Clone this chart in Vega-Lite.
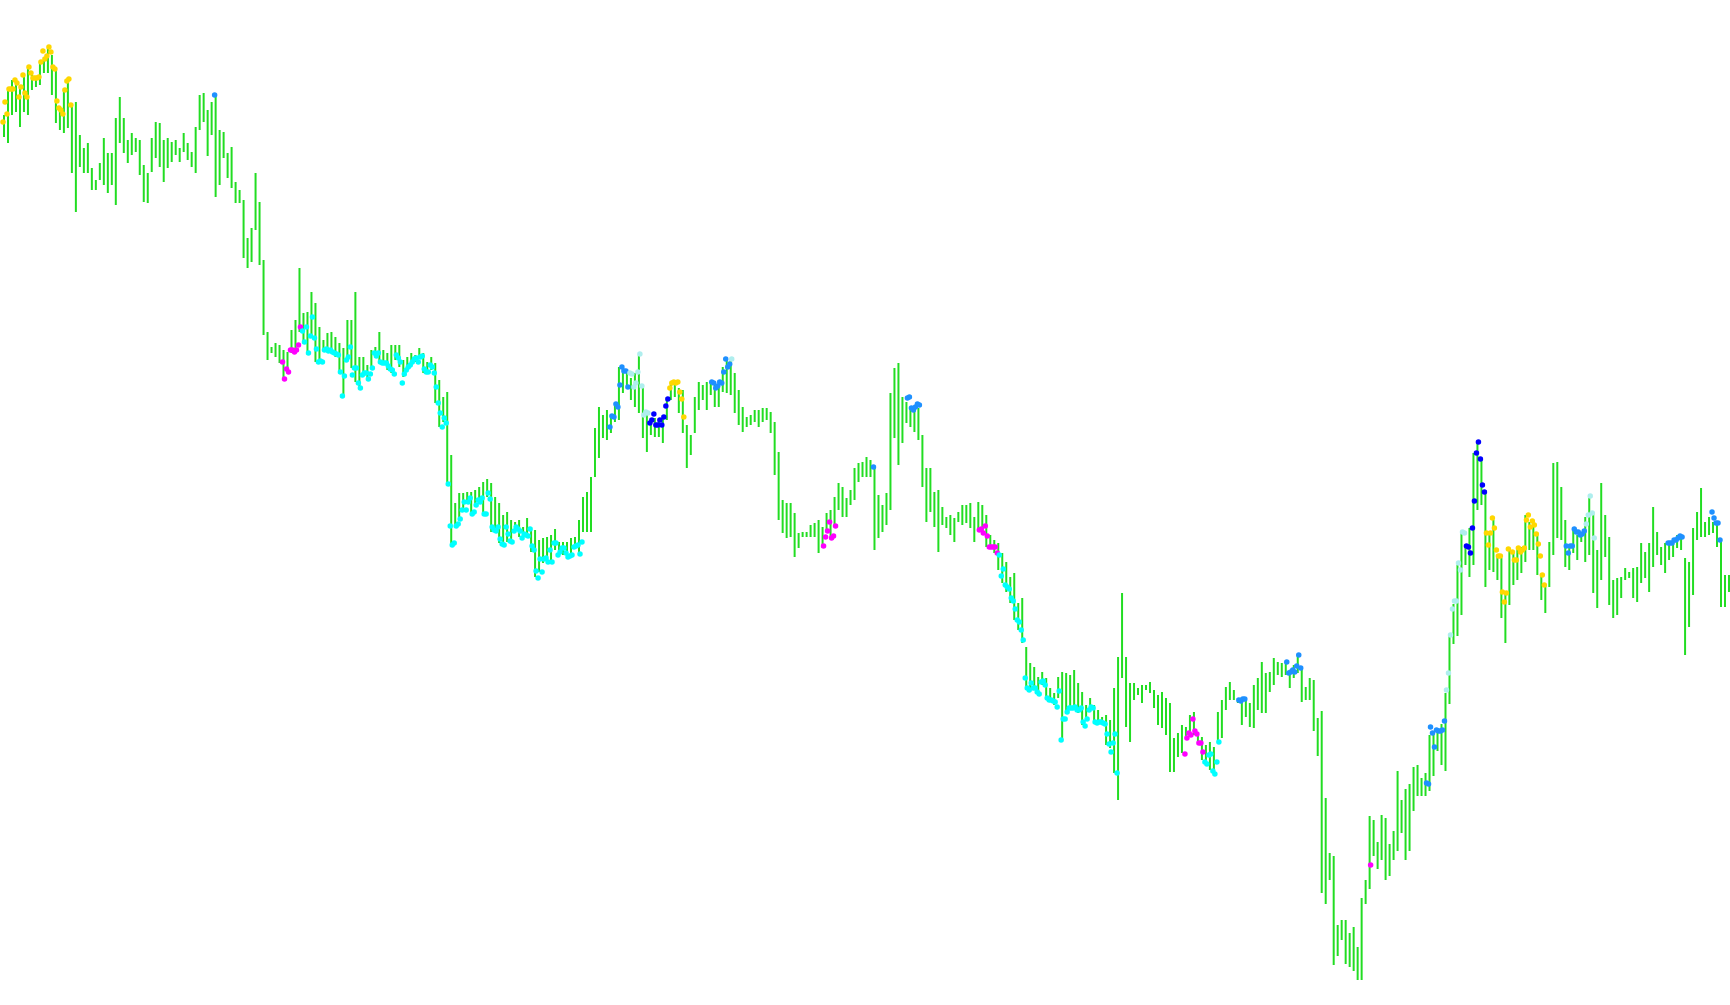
{
"$schema":"https://vega.github.io/schema/vega-lite/v6.json",
"width":1730,"height":1005,
"autosize":{"type":"fit","contains":"padding"},
"padding":0,
"background":"white",
"config":{"view":{"stroke":null}},
"datasets":{
"bars":[
{"n":0.5,"h":885,"l":863},{"n":2.5,"h":911,"l":857},{"n":4.5,"h":920,"l":885},{"n":6.5,"h":917,"l":888},{"n":8.5,"h":915,"l":873},{"n":10.5,"h":925,"l":888},{"n":12.5,"h":933,"l":885},{"n":14.5,"h":927,"l":910},{"n":16.5,"h":923,"l":913},{"n":18.5,"h":938,"l":915},
{"n":20.5,"h":943,"l":927},{"n":22.5,"h":952,"l":927},{"n":24.5,"h":945,"l":905},{"n":26.5,"h":932,"l":877},{"n":28.5,"h":892,"l":870},{"n":30.5,"h":910,"l":867},{"n":32.5,"h":920,"l":872},{"n":34.5,"h":893,"l":827},{"n":36.5,"h":898,"l":788},{"n":38.5,"h":865,"l":833},
{"n":40.5,"h":852,"l":827},{"n":42.5,"h":857,"l":827},{"n":44.5,"h":832,"l":810},{"n":46.5,"h":820,"l":810},{"n":48.5,"h":837,"l":820},{"n":50.5,"h":862,"l":815},{"n":52.5,"h":847,"l":807},{"n":54.5,"h":847,"l":815},{"n":56.5,"h":882,"l":795},{"n":58.5,"h":903,"l":857},
{"n":60.5,"h":882,"l":847},{"n":62.5,"h":860,"l":837},{"n":64.5,"h":867,"l":845},{"n":66.5,"h":862,"l":848},{"n":68.5,"h":860,"l":825},{"n":70.5,"h":835,"l":798},{"n":72.5,"h":827,"l":797},{"n":74.5,"h":862,"l":828},{"n":76.5,"h":878,"l":842},{"n":78.5,"h":877,"l":833},
{"n":80.5,"h":860,"l":818},{"n":82.5,"h":862,"l":832},{"n":84.5,"h":858,"l":838},{"n":86.5,"h":860,"l":845},{"n":88.5,"h":852,"l":838},{"n":90.5,"h":867,"l":848},{"n":92.5,"h":857,"l":840},{"n":94.5,"h":848,"l":833},{"n":96.5,"h":873,"l":827},{"n":98.5,"h":905,"l":870},
{"n":100.5,"h":907,"l":878},{"n":102.5,"h":890,"l":844},{"n":104.5,"h":898,"l":865},{"n":106.5,"h":905,"l":803},{"n":108.5,"h":870,"l":815},{"n":110.5,"h":868,"l":842},{"n":112.5,"h":847,"l":822},{"n":114.5,"h":853,"l":812},{"n":116.5,"h":818,"l":797},{"n":118.5,"h":810,"l":797},
{"n":120.5,"h":800,"l":742},{"n":122.5,"h":762,"l":732},{"n":124.5,"h":772,"l":738},{"n":126.5,"h":827,"l":770},{"n":128.5,"h":798,"l":735},{"n":130.5,"h":740,"l":665},{"n":132.5,"h":668,"l":640},{"n":134.5,"h":653,"l":647},{"n":136.5,"h":657,"l":643},{"n":138.5,"h":655,"l":637},
{"n":140.5,"h":650,"l":622},{"n":142.5,"h":648,"l":627},{"n":144.5,"h":670,"l":647},{"n":146.5,"h":680,"l":650},{"n":148.5,"h":732,"l":668},{"n":150.5,"h":687,"l":657},{"n":152.5,"h":688,"l":647},{"n":154.5,"h":708,"l":663},{"n":156.5,"h":697,"l":638},{"n":158.5,"h":673,"l":638},
{"n":160.5,"h":660,"l":650},{"n":162.5,"h":667,"l":648},{"n":164.5,"h":668,"l":647},{"n":166.5,"h":663,"l":643},{"n":168.5,"h":657,"l":627},{"n":170.5,"h":652,"l":603},{"n":172.5,"h":680,"l":642},{"n":174.5,"h":680,"l":632},{"n":176.5,"h":708,"l":618},{"n":178.5,"h":643,"l":612},
{"n":180.5,"h":643,"l":625},{"n":182.5,"h":635,"l":622},{"n":184.5,"h":650,"l":632},{"n":186.5,"h":653,"l":643},{"n":188.5,"h":668,"l":637},{"n":190.5,"h":650,"l":635},{"n":192.5,"h":647,"l":630},{"n":194.5,"h":655,"l":627},{"n":196.5,"h":655,"l":640},{"n":198.5,"h":655,"l":633},
{"n":200.5,"h":640,"l":623},{"n":202.5,"h":643,"l":630},{"n":204.5,"h":647,"l":637},{"n":206.5,"h":645,"l":638},{"n":208.5,"h":652,"l":642},{"n":210.5,"h":647,"l":627},{"n":212.5,"h":638,"l":627},{"n":214.5,"h":643,"l":630},{"n":216.5,"h":637,"l":597},{"n":218.5,"h":620,"l":573},
{"n":220.5,"h":603,"l":578},{"n":222.5,"h":608,"l":517},{"n":224.5,"h":545,"l":455},{"n":226.5,"h":497,"l":473},{"n":228.5,"h":507,"l":480},{"n":230.5,"h":507,"l":492},{"n":232.5,"h":508,"l":498},{"n":234.5,"h":508,"l":487},{"n":236.5,"h":510,"l":493},{"n":238.5,"h":513,"l":500},
{"n":240.5,"h":518,"l":485},{"n":242.5,"h":521,"l":503},{"n":244.5,"h":517,"l":468},{"n":246.5,"h":503,"l":470},{"n":248.5,"h":497,"l":457},{"n":250.5,"h":485,"l":455},{"n":252.5,"h":488,"l":458},{"n":254.5,"h":480,"l":457},{"n":256.5,"h":478,"l":470},{"n":258.5,"h":480,"l":463},
{"n":260.5,"h":473,"l":463},{"n":262.5,"h":482,"l":465},{"n":264.5,"h":473,"l":448},{"n":266.5,"h":470,"l":423},{"n":268.5,"h":460,"l":428},{"n":270.5,"h":462,"l":437},{"n":272.5,"h":463,"l":438},{"n":274.5,"h":465,"l":437},{"n":276.5,"h":471,"l":450},{"n":278.5,"h":458,"l":448},
{"n":280.5,"h":458,"l":445},{"n":282.5,"h":458,"l":443},{"n":284.5,"h":462,"l":443},{"n":286.5,"h":463,"l":453},{"n":288.5,"h":480,"l":447},{"n":290.5,"h":503,"l":468},{"n":292.5,"h":508,"l":468},{"n":294.5,"h":523,"l":468},{"n":296.5,"h":572,"l":523},{"n":298.5,"h":593,"l":542},
{"n":300.5,"h":585,"l":562},{"n":302.5,"h":590,"l":560},{"n":304.5,"h":585,"l":567},{"n":306.5,"h":597,"l":578},{"n":308.5,"h":633,"l":580},{"n":310.5,"h":630,"l":607},{"n":312.5,"h":627,"l":612},{"n":314.5,"h":622,"l":600},{"n":316.5,"h":627,"l":593},{"n":318.5,"h":645,"l":587},
{"n":320.5,"h":612,"l":562},{"n":322.5,"h":588,"l":548},{"n":324.5,"h":582,"l":565},{"n":326.5,"h":582,"l":563},{"n":328.5,"h":580,"l":563},{"n":330.5,"h":585,"l":557},{"n":332.5,"h":603,"l":580},{"n":334.5,"h":618,"l":600},{"n":336.5,"h":620,"l":603},{"n":338.5,"h":612,"l":587},
{"n":340.5,"h":610,"l":567},{"n":342.5,"h":575,"l":532},{"n":344.5,"h":565,"l":545},{"n":346.5,"h":603,"l":567},{"n":348.5,"h":618,"l":590},{"n":350.5,"h":615,"l":600},{"n":352.5,"h":618,"l":590},{"n":354.5,"h":618,"l":605},{"n":356.5,"h":617,"l":593},{"n":358.5,"h":620,"l":593},
{"n":360.5,"h":633,"l":608},{"n":362.5,"h":640,"l":607},{"n":364.5,"h":640,"l":605},{"n":366.5,"h":627,"l":587},{"n":368.5,"h":610,"l":575},{"n":370.5,"h":593,"l":568},{"n":372.5,"h":583,"l":573},{"n":374.5,"h":585,"l":575},{"n":376.5,"h":590,"l":578},{"n":378.5,"h":590,"l":573},
{"n":380.5,"h":592,"l":578},{"n":382.5,"h":592,"l":580},{"n":384.5,"h":588,"l":567},{"n":386.5,"h":578,"l":525},{"n":388.5,"h":548,"l":480},{"n":390.5,"h":500,"l":467},{"n":392.5,"h":497,"l":462},{"n":394.5,"h":497,"l":463},{"n":396.5,"h":487,"l":443},{"n":398.5,"h":467,"l":452},
{"n":400.5,"h":468,"l":463},{"n":402.5,"h":468,"l":463},{"n":404.5,"h":475,"l":463},{"n":406.5,"h":477,"l":463},{"n":408.5,"h":480,"l":447},{"n":410.5,"h":473,"l":452},{"n":412.5,"h":487,"l":468},{"n":414.5,"h":490,"l":463},{"n":416.5,"h":503,"l":473},{"n":418.5,"h":517,"l":490},
{"n":420.5,"h":513,"l":483},{"n":422.5,"h":502,"l":483},{"n":424.5,"h":510,"l":495},{"n":426.5,"h":532,"l":500},{"n":428.5,"h":537,"l":518},{"n":430.5,"h":538,"l":523},{"n":432.5,"h":543,"l":523},{"n":434.5,"h":540,"l":523},{"n":436.5,"h":533,"l":450},{"n":438.5,"h":505,"l":462},
{"n":440.5,"h":495,"l":468},{"n":442.5,"h":507,"l":475},{"n":444.5,"h":607,"l":490},{"n":446.5,"h":632,"l":562},{"n":448.5,"h":637,"l":535},{"n":450.5,"h":603,"l":557},{"n":452.5,"h":598,"l":577},{"n":454.5,"h":592,"l":573},{"n":456.5,"h":593,"l":568},{"n":458.5,"h":592,"l":560},
{"n":460.5,"h":565,"l":513},{"n":462.5,"h":532,"l":478},{"n":464.5,"h":532,"l":488},{"n":466.5,"h":508,"l":473},{"n":468.5,"h":510,"l":448},{"n":470.5,"h":493,"l":475},{"n":472.5,"h":483,"l":472},{"n":474.5,"h":485,"l":465},{"n":476.5,"h":482,"l":458},{"n":478.5,"h":488,"l":478},
{"n":480.5,"h":495,"l":475},{"n":482.5,"h":495,"l":477},{"n":484.5,"h":497,"l":472},{"n":486.5,"h":483,"l":458},{"n":488.5,"h":498,"l":470},{"n":490.5,"h":495,"l":465},{"n":492.5,"h":485,"l":453},{"n":494.5,"h":465,"l":453},{"n":496.5,"h":460,"l":447},{"n":498.5,"h":457,"l":430},
{"n":500.5,"h":447,"l":417},{"n":502.5,"h":438,"l":408},{"n":504.5,"h":423,"l":397},{"n":506.5,"h":427,"l":380},{"n":508.5,"h":397,"l":370},{"n":510.5,"h":402,"l":357},{"n":512.5,"h":353,"l":310},{"n":514.5,"h":337,"l":312},{"n":516.5,"h":333,"l":310},{"n":518.5,"h":323,"l":307},
{"n":520.5,"h":328,"l":315},{"n":522.5,"h":322,"l":300},{"n":524.5,"h":312,"l":298},{"n":526.5,"h":307,"l":295},{"n":528.5,"h":323,"l":302},{"n":530.5,"h":328,"l":260},{"n":532.5,"h":327,"l":287},{"n":534.5,"h":325,"l":292},{"n":536.5,"h":330,"l":292},{"n":538.5,"h":317,"l":287},
{"n":540.5,"h":308,"l":275},{"n":542.5,"h":295,"l":280},{"n":544.5,"h":302,"l":290},{"n":546.5,"h":295,"l":278},{"n":548.5,"h":290,"l":278},{"n":550.5,"h":283,"l":275},{"n":552.5,"h":285,"l":255},{"n":554.5,"h":280,"l":252},{"n":556.5,"h":312,"l":227},{"n":558.5,"h":343,"l":200},
{"n":560.5,"h":407,"l":322},{"n":562.5,"h":343,"l":273},{"n":564.5,"h":317,"l":258},{"n":566.5,"h":317,"l":300},{"n":568.5,"h":312,"l":305},{"n":570.5,"h":315,"l":297},{"n":572.5,"h":315,"l":310},{"n":574.5,"h":318,"l":307},{"n":576.5,"h":310,"l":292},{"n":578.5,"h":305,"l":275},
{"n":580.5,"h":308,"l":272},{"n":582.5,"h":302,"l":265},{"n":584.5,"h":297,"l":228},{"n":586.5,"h":262,"l":228},{"n":588.5,"h":267,"l":243},{"n":590.5,"h":275,"l":247},{"n":592.5,"h":273,"l":260},{"n":594.5,"h":285,"l":267},{"n":596.5,"h":288,"l":265},{"n":598.5,"h":268,"l":255},
{"n":600.5,"h":263,"l":240},{"n":602.5,"h":255,"l":237},{"n":604.5,"h":258,"l":230},{"n":606.5,"h":253,"l":227},{"n":608.5,"h":288,"l":258},{"n":610.5,"h":300,"l":262},{"n":612.5,"h":313,"l":290},{"n":614.5,"h":318,"l":300},{"n":616.5,"h":310,"l":300},{"n":618.5,"h":302,"l":297},
{"n":620.5,"h":303,"l":275},{"n":622.5,"h":300,"l":283},{"n":624.5,"h":297,"l":273},{"n":626.5,"h":315,"l":272},{"n":628.5,"h":322,"l":290},{"n":630.5,"h":338,"l":287},{"n":632.5,"h":327,"l":287},{"n":634.5,"h":328,"l":308},{"n":636.5,"h":342,"l":315},{"n":638.5,"h":338,"l":325},
{"n":640.5,"h":337,"l":323},{"n":642.5,"h":338,"l":325},{"n":644.5,"h":327,"l":312},{"n":646.5,"h":335,"l":322},{"n":648.5,"h":345,"l":327},{"n":650.5,"h":331,"l":298},{"n":652.5,"h":313,"l":300},{"n":654.5,"h":322,"l":300},{"n":656.5,"h":320,"l":269},{"n":658.5,"h":282,"l":244},
{"n":660.5,"h":289,"l":107},{"n":662.5,"h":202,"l":96},{"n":664.5,"h":147,"l":120},{"n":666.5,"h":144,"l":35},{"n":668.5,"h":75,"l":44},{"n":670.5,"h":80,"l":60},{"n":672.5,"h":80,"l":36},{"n":674.5,"h":67,"l":33},{"n":676.5,"h":73,"l":29},{"n":678.5,"h":53,"l":20},
{"n":680.5,"h":102,"l":20},{"n":682.5,"h":120,"l":96},{"n":684.5,"h":184,"l":111},{"n":686.5,"h":180,"l":144},{"n":688.5,"h":158,"l":131},{"n":690.5,"h":185,"l":140},{"n":692.5,"h":182,"l":120},{"n":694.5,"h":156,"l":124},{"n":696.5,"h":169,"l":140},{"n":698.5,"h":229,"l":149},
{"n":700.5,"h":200,"l":167},{"n":702.5,"h":211,"l":140},{"n":704.5,"h":216,"l":149},{"n":706.5,"h":233,"l":189},{"n":708.5,"h":235,"l":204},{"n":710.5,"h":222,"l":204},{"n":712.5,"h":227,"l":204},{"n":714.5,"h":265,"l":209},{"n":716.5,"h":269,"l":224},{"n":718.5,"h":271,"l":249},
{"n":720.5,"h":276,"l":235},{"n":722.5,"h":307,"l":229},{"n":724.5,"h":364,"l":296},{"n":726.5,"h":396,"l":356},{"n":728.5,"h":435,"l":364},{"n":730.5,"h":467,"l":385},{"n":732.5,"h":455,"l":435},{"n":734.5,"h":472,"l":423},{"n":736.5,"h":547,"l":435},{"n":738.5,"h":558,"l":490},
{"n":740.5,"h":542,"l":495},{"n":742.5,"h":510,"l":413},{"n":744.5,"h":467,"l":430},{"n":746.5,"h":480,"l":428},{"n":748.5,"h":445,"l":420},{"n":750.5,"h":442,"l":382},{"n":752.5,"h":407,"l":357},{"n":754.5,"h":452,"l":395},{"n":756.5,"h":447,"l":415},{"n":758.5,"h":452,"l":420},
{"n":760.5,"h":453,"l":427},{"n":762.5,"h":485,"l":438},{"n":764.5,"h":478,"l":450},{"n":766.5,"h":478,"l":450},{"n":768.5,"h":465,"l":425},{"n":770.5,"h":425,"l":400},{"n":772.5,"h":415,"l":387},{"n":774.5,"h":458,"l":413},{"n":776.5,"h":537,"l":445},{"n":778.5,"h":538,"l":462},
{"n":780.5,"h":513,"l":460},{"n":782.5,"h":480,"l":433},{"n":784.5,"h":453,"l":430},{"n":786.5,"h":472,"l":447},{"n":788.5,"h":465,"l":440},{"n":790.5,"h":468,"l":458},{"n":792.5,"h":483,"l":438},{"n":794.5,"h":502,"l":445},{"n":796.5,"h":488,"l":407},{"n":798.5,"h":450,"l":392},
{"n":800.5,"h":517,"l":420},{"n":802.5,"h":485,"l":443},{"n":804.5,"h":463,"l":395},{"n":806.5,"h":420,"l":382},{"n":808.5,"h":422,"l":385},{"n":810.5,"h":423,"l":402},{"n":812.5,"h":432,"l":420},{"n":814.5,"h":428,"l":422},{"n":816.5,"h":432,"l":402},{"n":818.5,"h":433,"l":398},
{"n":820.5,"h":457,"l":417},{"n":822.5,"h":448,"l":422},{"n":824.5,"h":457,"l":408},{"n":826.5,"h":493,"l":433},{"n":828.5,"h":468,"l":445},{"n":830.5,"h":453,"l":435},{"n":832.5,"h":457,"l":427},{"n":834.5,"h":455,"l":440},{"n":836.5,"h":462,"l":443},{"n":838.5,"h":465,"l":452},
{"n":840.5,"h":465,"l":450},{"n":842.5,"h":442,"l":345},{"n":844.5,"h":438,"l":373},{"n":846.5,"h":472,"l":405},{"n":848.5,"h":488,"l":460},{"n":850.5,"h":512,"l":463},{"n":852.5,"h":478,"l":463},{"n":854.5,"h":483,"l":465},{"n":856.5,"h":478,"l":467},{"n":858.5,"h":478,"l":453},
{"n":860.5,"h":460,"l":393},{"n":862.5,"h":425,"l":393},{"n":864.5,"h":425,"l":408}
],
"dots":[
{"n":0,"v":878,"c":"G"},{"n":1,"v":898,"c":"G"},{"n":2,"v":886,"c":"G"},{"n":3,"v":911,"c":"G"},{"n":4,"v":911,"c":"G"},{"n":5,"v":911,"c":"G"},{"n":6,"v":920,"c":"G"},{"n":7,"v":917,"c":"G"},{"n":8,"v":903,"c":"G"},{"n":9,"v":913,"c":"G"},{"n":10,"v":925,"c":"G"},{"n":11,"v":907,"c":"G"},{"n":12,"v":903,"c":"G"},{"n":13,"v":933,"c":"G"},{"n":14,"v":927,"c":"G"},{"n":15,"v":922,"c":"G"},{"n":16,"v":922,"c":"G"},{"n":17,"v":922,"c":"G"},{"n":18,"v":923,"c":"G"},{"n":19,"v":938,"c":"G"},{"n":20,"v":949,"c":"G"},{"n":21,"v":941,"c":"G"},{"n":22,"v":944,"c":"G"},{"n":23,"v":953,"c":"G"},{"n":24,"v":948,"c":"G"},{"n":25,"v":933,"c":"G"},{"n":26,"v":931,"c":"G"},{"n":27,"v":899,"c":"G"},{"n":28,"v":892,"c":"G"},{"n":29,"v":890,"c":"G"},{"n":30,"v":886,"c":"G"},{"n":31,"v":910,"c":"G"},{"n":32,"v":919,"c":"G"},{"n":33,"v":921,"c":"G"},{"n":34,"v":895,"c":"G"},
{"n":106,"v":905,"c":"D"},
{"n":140,"v":638,"c":"M"},{"n":141,"v":621,"c":"M"},{"n":142,"v":631,"c":"M"},{"n":143,"v":628,"c":"M"},{"n":144,"v":650,"c":"M"},{"n":145,"v":650,"c":"M"},{"n":146,"v":648,"c":"M"},{"n":147,"v":650,"c":"M"},{"n":148,"v":655,"c":"M"},{"n":149,"v":673,"c":"M"},
{"n":150,"v":669,"c":"C"},{"n":151,"v":658,"c":"C"},{"n":152,"v":673,"c":"C"},{"n":153,"v":647,"c":"C"},{"n":154,"v":664,"c":"C"},{"n":155,"v":683,"c":"C"},{"n":156,"v":662,"c":"C"},{"n":157,"v":651,"c":"C"},{"n":158,"v":638,"c":"C"},{"n":159,"v":639,"c":"C"},{"n":160,"v":638,"c":"C"},{"n":161,"v":650,"c":"C"},{"n":162,"v":651,"c":"C"},{"n":163,"v":649,"c":"C"},{"n":164,"v":650,"c":"C"},{"n":165,"v":648,"c":"C"},{"n":166,"v":647,"c":"C"},{"n":167,"v":646,"c":"C"},{"n":168,"v":645,"c":"C"},{"n":169,"v":628,"c":"C"},{"n":170,"v":604,"c":"C"},{"n":171,"v":624,"c":"C"},{"n":172,"v":640,"c":"C"},{"n":173,"v":643,"c":"C"},{"n":174,"v":653,"c":"C"},{"n":175,"v":625,"c":"C"},{"n":176,"v":632,"c":"C"},{"n":177,"v":632,"c":"C"},{"n":178,"v":617,"c":"C"},{"n":179,"v":612,"c":"C"},{"n":180,"v":625,"c":"C"},{"n":181,"v":627,"c":"C"},{"n":182,"v":627,"c":"C"},{"n":183,"v":621,"c":"C"},{"n":184,"v":626,"c":"C"},{"n":185,"v":632,"c":"C"},{"n":186,"v":647,"c":"C"},{"n":187,"v":644,"c":"C"},{"n":188,"v":647,"c":"C"},{"n":189,"v":638,"c":"C"},{"n":190,"v":637,"c":"C"},{"n":191,"v":637,"c":"C"},{"n":192,"v":637,"c":"C"},{"n":193,"v":634,"c":"C"},{"n":194,"v":631,"c":"C"},{"n":195,"v":630,"c":"C"},{"n":196,"v":626,"c":"C"},{"n":197,"v":645,"c":"C"},{"n":198,"v":642,"c":"C"},{"n":199,"v":638,"c":"C"},{"n":200,"v":617,"c":"C"},{"n":201,"v":626,"c":"C"},{"n":202,"v":630,"c":"C"},{"n":203,"v":633,"c":"C"},{"n":204,"v":635,"c":"C"},{"n":205,"v":638,"c":"C"},{"n":206,"v":641,"c":"C"},{"n":207,"v":642,"c":"C"},{"n":208,"v":638,"c":"C"},{"n":209,"v":643,"c":"C"},{"n":210,"v":644,"c":"C"},{"n":211,"v":631,"c":"C"},{"n":212,"v":628,"c":"C"},{"n":213,"v":628,"c":"C"},{"n":214,"v":635,"c":"C"},{"n":215,"v":633,"c":"C"},{"n":216,"v":627,"c":"C"},{"n":217,"v":613,"c":"C"},
{"n":218,"v":597,"c":"C"},{"n":219,"v":587,"c":"C"},{"n":220,"v":573,"c":"C"},{"n":221,"v":582,"c":"C"},{"n":222,"v":577,"c":"C"},{"n":223,"v":516,"c":"C"},{"n":224,"v":474,"c":"C"},{"n":225,"v":455,"c":"C"},{"n":226,"v":457,"c":"C"},{"n":227,"v":474,"c":"C"},{"n":228,"v":476,"c":"C"},{"n":229,"v":481,"c":"C"},{"n":230,"v":490,"c":"C"},{"n":231,"v":498,"c":"C"},{"n":232,"v":490,"c":"C"},{"n":233,"v":498,"c":"C"},{"n":234,"v":502,"c":"C"},{"n":235,"v":486,"c":"C"},{"n":236,"v":488,"c":"C"},{"n":237,"v":495,"c":"C"},{"n":238,"v":500,"c":"C"},{"n":239,"v":498,"c":"C"},{"n":240,"v":502,"c":"C"},{"n":241,"v":486,"c":"C"},{"n":242,"v":486,"c":"C"},{"n":243,"v":507,"c":"C"},{"n":244,"v":501,"c":"C"},{"n":245,"v":473,"c":"C"},{"n":246,"v":470,"c":"C"},{"n":247,"v":469,"c":"C"},{"n":248,"v":473,"c":"C"},{"n":249,"v":461,"c":"C"},{"n":250,"v":456,"c":"C"},{"n":251,"v":455,"c":"C"},{"n":252,"v":473,"c":"C"},{"n":253,"v":466,"c":"C"},{"n":254,"v":459,"c":"C"},{"n":255,"v":458,"c":"C"},{"n":256,"v":469,"c":"C"},{"n":257,"v":473,"c":"C"},{"n":258,"v":471,"c":"C"},{"n":259,"v":469,"c":"C"},{"n":260,"v":462,"c":"C"},{"n":261,"v":466,"c":"C"},{"n":262,"v":465,"c":"C"},{"n":263,"v":464,"c":"C"},{"n":264,"v":471,"c":"C"},{"n":265,"v":454,"c":"C"},{"n":266,"v":450,"c":"C"},{"n":267,"v":429,"c":"C"},{"n":268,"v":422,"c":"C"},{"n":269,"v":441,"c":"C"},{"n":270,"v":428,"c":"C"},{"n":271,"v":441,"c":"C"},{"n":272,"v":442,"c":"C"},{"n":273,"v":438,"c":"C"},{"n":274,"v":450,"c":"C"},{"n":275,"v":438,"c":"C"},{"n":276,"v":457,"c":"C"},{"n":277,"v":457,"c":"C"},{"n":278,"v":445,"c":"C"},{"n":279,"v":448,"c":"C"},{"n":280,"v":452,"c":"C"},{"n":281,"v":452,"c":"C"},{"n":282,"v":447,"c":"C"},{"n":283,"v":443,"c":"C"},{"n":284,"v":444,"c":"C"},{"n":285,"v":445,"c":"C"},{"n":286,"v":453,"c":"C"},{"n":287,"v":454,"c":"C"},{"n":288,"v":455,"c":"C"},{"n":289,"v":446,"c":"C"},{"n":290,"v":458,"c":"C"},
{"n":304,"v":573,"c":"D"},{"n":305,"v":584,"c":"D"},{"n":306,"v":583,"c":"D"},{"n":307,"v":596,"c":"D"},{"n":308,"v":593,"c":"D"},{"n":309,"v":615,"c":"D"},{"n":310,"v":633,"c":"D"},{"n":311,"v":629,"c":"D"},{"n":312,"v":629,"c":"D"},{"n":313,"v":613,"c":"D"},
{"n":314,"v":627,"c":"P"},{"n":315,"v":626,"c":"P"},{"n":316,"v":613,"c":"P"},{"n":317,"v":617,"c":"P"},{"n":318,"v":628,"c":"P"},{"n":319,"v":646,"c":"P"},{"n":320,"v":614,"c":"P"},{"n":321,"v":585,"c":"P"},{"n":322,"v":588,"c":"P"},{"n":323,"v":587,"c":"P"},
{"n":324,"v":577,"c":"B"},{"n":325,"v":580,"c":"B"},{"n":326,"v":586,"c":"B"},{"n":327,"v":575,"c":"B"},{"n":328,"v":575,"c":"B"},{"n":329,"v":580,"c":"B"},{"n":330,"v":575,"c":"B"},{"n":331,"v":583,"c":"B"},{"n":332,"v":594,"c":"B"},{"n":333,"v":601,"c":"B"},
{"n":334,"v":612,"c":"G"},{"n":335,"v":617,"c":"G"},{"n":336,"v":618,"c":"G"},{"n":337,"v":617,"c":"G"},{"n":338,"v":618,"c":"G"},{"n":339,"v":608,"c":"G"},{"n":340,"v":601,"c":"G"},{"n":341,"v":583,"c":"G"},
{"n":355,"v":618,"c":"D"},{"n":356,"v":617,"c":"D"},{"n":357,"v":612,"c":"D"},{"n":358,"v":614,"c":"D"},{"n":359,"v":618,"c":"D"},{"n":360,"v":617,"c":"D"},{"n":361,"v":628,"c":"D"},{"n":362,"v":641,"c":"D"},{"n":363,"v":633,"c":"D"},{"n":364,"v":636,"c":"D"},{"n":365,"v":641,"c":"P"},
{"n":411,"v":454,"c":"M"},{"n":412,"v":463,"c":"M"},{"n":413,"v":469,"c":"M"},{"n":414,"v":478,"c":"M"},{"n":415,"v":462,"c":"M"},{"n":416,"v":464,"c":"M"},{"n":417,"v":474,"c":"M"},
{"n":436,"v":533,"c":"D"},
{"n":453,"v":602,"c":"D"},{"n":454,"v":603,"c":"D"},{"n":455,"v":592,"c":"D"},{"n":456,"v":590,"c":"D"},{"n":457,"v":593,"c":"D"},{"n":458,"v":596,"c":"D"},{"n":459,"v":595,"c":"D"},
{"n":489,"v":470,"c":"M"},{"n":490,"v":471,"c":"M"},{"n":491,"v":467,"c":"M"},{"n":492,"v":474,"c":"M"},{"n":493,"v":464,"c":"M"},{"n":494,"v":453,"c":"M"},{"n":495,"v":453,"c":"M"},{"n":496,"v":453,"c":"M"},{"n":497,"v":453,"c":"M"},{"n":498,"v":447,"c":"M"},
{"n":499,"v":445,"c":"C"},{"n":500,"v":424,"c":"C"},{"n":501,"v":431,"c":"C"},{"n":502,"v":415,"c":"C"},{"n":503,"v":413,"c":"C"},{"n":504,"v":411,"c":"C"},{"n":505,"v":402,"c":"C"},{"n":506,"v":399,"c":"C"},{"n":507,"v":391,"c":"C"},{"n":508,"v":380,"c":"C"},{"n":509,"v":378,"c":"C"},{"n":510,"v":370,"c":"C"},{"n":511,"v":360,"c":"C"},{"n":512,"v":322,"c":"C"},{"n":513,"v":312,"c":"C"},{"n":514,"v":310,"c":"C"},{"n":515,"v":317,"c":"C"},{"n":516,"v":312,"c":"C"},{"n":517,"v":312,"c":"C"},{"n":518,"v":308,"c":"C"},{"n":519,"v":306,"c":"C"},{"n":520,"v":318,"c":"C"},{"n":521,"v":319,"c":"C"},{"n":522,"v":315,"c":"C"},{"n":523,"v":302,"c":"C"},{"n":524,"v":300,"c":"C"},{"n":525,"v":300,"c":"C"},{"n":526,"v":299,"c":"C"},{"n":527,"v":298,"c":"C"},{"n":528,"v":293,"c":"C"},{"n":529,"v":309,"c":"C"},{"n":530,"v":260,"c":"C"},{"n":531,"v":281,"c":"C"},{"n":532,"v":281,"c":"C"},{"n":533,"v":288,"c":"C"},{"n":534,"v":292,"c":"C"},{"n":535,"v":292,"c":"C"},{"n":536,"v":292,"c":"C"},{"n":537,"v":293,"c":"C"},{"n":538,"v":290,"c":"C"},{"n":539,"v":290,"c":"C"},{"n":540,"v":292,"c":"C"},{"n":541,"v":278,"c":"C"},{"n":542,"v":274,"c":"C"},{"n":543,"v":281,"c":"C"},{"n":544,"v":290,"c":"C"},{"n":545,"v":293,"c":"C"},{"n":546,"v":292,"c":"C"},{"n":547,"v":278,"c":"C"},{"n":548,"v":277,"c":"C"},{"n":549,"v":278,"c":"C"},{"n":550,"v":278,"c":"C"},{"n":551,"v":277,"c":"C"},{"n":552,"v":276,"c":"C"},{"n":553,"v":266,"c":"C"},{"n":554,"v":256,"c":"C"},{"n":555,"v":248,"c":"C"},{"n":556,"v":257,"c":"C"},{"n":557,"v":266,"c":"C"},{"n":558,"v":227,"c":"C"},
{"n":592,"v":246,"c":"M"},{"n":593,"v":262,"c":"M"},{"n":594,"v":267,"c":"M"},{"n":595,"v":265,"c":"M"},{"n":596,"v":281,"c":"M"},{"n":597,"v":269,"c":"M"},{"n":598,"v":266,"c":"M"},{"n":599,"v":257,"c":"M"},{"n":600,"v":257,"c":"M"},{"n":601,"v":248,"c":"M"},
{"n":602,"v":238,"c":"C"},{"n":603,"v":236,"c":"C"},{"n":604,"v":245,"c":"C"},{"n":605,"v":246,"c":"C"},{"n":606,"v":229,"c":"C"},{"n":607,"v":226,"c":"C"},{"n":608,"v":238,"c":"C"},{"n":609,"v":258,"c":"C"},
{"n":619,"v":300,"c":"D"},{"n":620,"v":299,"c":"D"},{"n":621,"v":301,"c":"D"},{"n":622,"v":301,"c":"D"},
{"n":643,"v":338,"c":"D"},{"n":644,"v":327,"c":"D"},{"n":645,"v":328,"c":"D"},{"n":646,"v":330,"c":"D"},{"n":647,"v":328,"c":"D"},{"n":648,"v":334,"c":"D"},{"n":649,"v":345,"c":"D"},{"n":650,"v":332,"c":"D"},
{"n":685,"v":135,"c":"M"},
{"n":713,"v":217,"c":"D"},{"n":714,"v":216,"c":"D"},{"n":715,"v":273,"c":"D"},{"n":716,"v":267,"c":"D"},{"n":717,"v":253,"c":"D"},{"n":718,"v":270,"c":"D"},{"n":719,"v":269,"c":"D"},{"n":720,"v":269,"c":"D"},{"n":721,"v":270,"c":"D"},{"n":722,"v":279,"c":"D"},
{"n":723,"v":310,"c":"P"},{"n":724,"v":327,"c":"P"},{"n":725,"v":365,"c":"P"},{"n":726,"v":391,"c":"P"},{"n":727,"v":399,"c":"P"},{"n":728,"v":399,"c":"P"},{"n":729,"v":437,"c":"P"},{"n":730,"v":430,"c":"P"},{"n":731,"v":468,"c":"P"},{"n":732,"v":467,"c":"P"},
{"n":733,"v":454,"c":"B"},{"n":734,"v":453,"c":"B"},{"n":735,"v":447,"c":"B"},{"n":736,"v":472,"c":"B"},{"n":737,"v":499,"c":"B"},{"n":738,"v":547,"c":"B"},{"n":739,"v":558,"c":"B"},{"n":740,"v":541,"c":"B"},{"n":741,"v":515,"c":"B"},{"n":742,"v":508,"c":"B"},
{"n":743,"v":467,"c":"G"},{"n":744,"v":455,"c":"G"},{"n":745,"v":467,"c":"G"},{"n":746,"v":482,"c":"G"},{"n":747,"v":472,"c":"G"},{"n":748,"v":450,"c":"G"},{"n":749,"v":444,"c":"G"},{"n":750,"v":444,"c":"G"},{"n":751,"v":408,"c":"G"},{"n":752,"v":398,"c":"G"},{"n":753,"v":407,"c":"G"},{"n":754,"v":451,"c":"G"},{"n":756,"v":448,"c":"G"},{"n":757,"v":440,"c":"G"},{"n":758,"v":440,"c":"G"},{"n":759,"v":452,"c":"G"},{"n":760,"v":448,"c":"G"},{"n":761,"v":450,"c":"G"},{"n":762,"v":452,"c":"G"},{"n":763,"v":480,"c":"G"},{"n":764,"v":485,"c":"G"},{"n":765,"v":473,"c":"G"},{"n":766,"v":479,"c":"G"},{"n":767,"v":475,"c":"G"},{"n":768,"v":466,"c":"G"},{"n":769,"v":456,"c":"G"},{"n":770,"v":444,"c":"G"},{"n":771,"v":425,"c":"G"},{"n":772,"v":415,"c":"G"},
{"n":783,"v":454,"c":"D"},{"n":784,"v":447,"c":"D"},{"n":785,"v":454,"c":"D"},{"n":786,"v":454,"c":"D"},{"n":787,"v":471,"c":"D"},{"n":788,"v":468,"c":"D"},{"n":789,"v":468,"c":"D"},{"n":790,"v":465,"c":"D"},{"n":791,"v":466,"c":"D"},{"n":792,"v":469,"c":"D"},
{"n":793,"v":476,"c":"P"},{"n":794,"v":485,"c":"P"},{"n":795,"v":504,"c":"P"},{"n":796,"v":487,"c":"P"},{"n":797,"v":462,"c":"P"},
{"n":834,"v":457,"c":"D"},{"n":835,"v":457,"c":"D"},{"n":836,"v":457,"c":"D"},{"n":837,"v":460,"c":"D"},{"n":838,"v":460,"c":"D"},{"n":839,"v":462,"c":"D"},{"n":840,"v":464,"c":"D"},{"n":841,"v":463,"c":"D"},
{"n":856,"v":488,"c":"D"},{"n":857,"v":482,"c":"D"},{"n":858,"v":477,"c":"D"},{"n":859,"v":477,"c":"D"},{"n":860,"v":460,"c":"D"}
]
},
"layer":[
{"data":{"name":"bars"},
 "mark":{"type":"rule","color":"#22DD22","strokeWidth":2},
 "encoding":{
  "x":{"field":"n","type":"quantitative","scale":{"domain":[-0.5,864.5],"nice":false,"zero":false},"axis":null},
  "y":{"field":"l","type":"quantitative","scale":{"domain":[-5,1000],"nice":false,"zero":false},"axis":null},
  "y2":{"field":"h"}}},
{"data":{"name":"dots"},
 "mark":{"type":"circle","size":30,"opacity":1,"strokeWidth":0},
 "encoding":{
  "x":{"field":"n","type":"quantitative"},
  "y":{"field":"v","type":"quantitative"},
  "color":{"field":"c","type":"nominal","legend":null,
   "scale":{"domain":["G","M","C","D","B","P"],"range":["#FFD700","#FF00FF","#00FFFF","#1E90FF","#0000FF","#AFEEEE"]}}}}
]
}
